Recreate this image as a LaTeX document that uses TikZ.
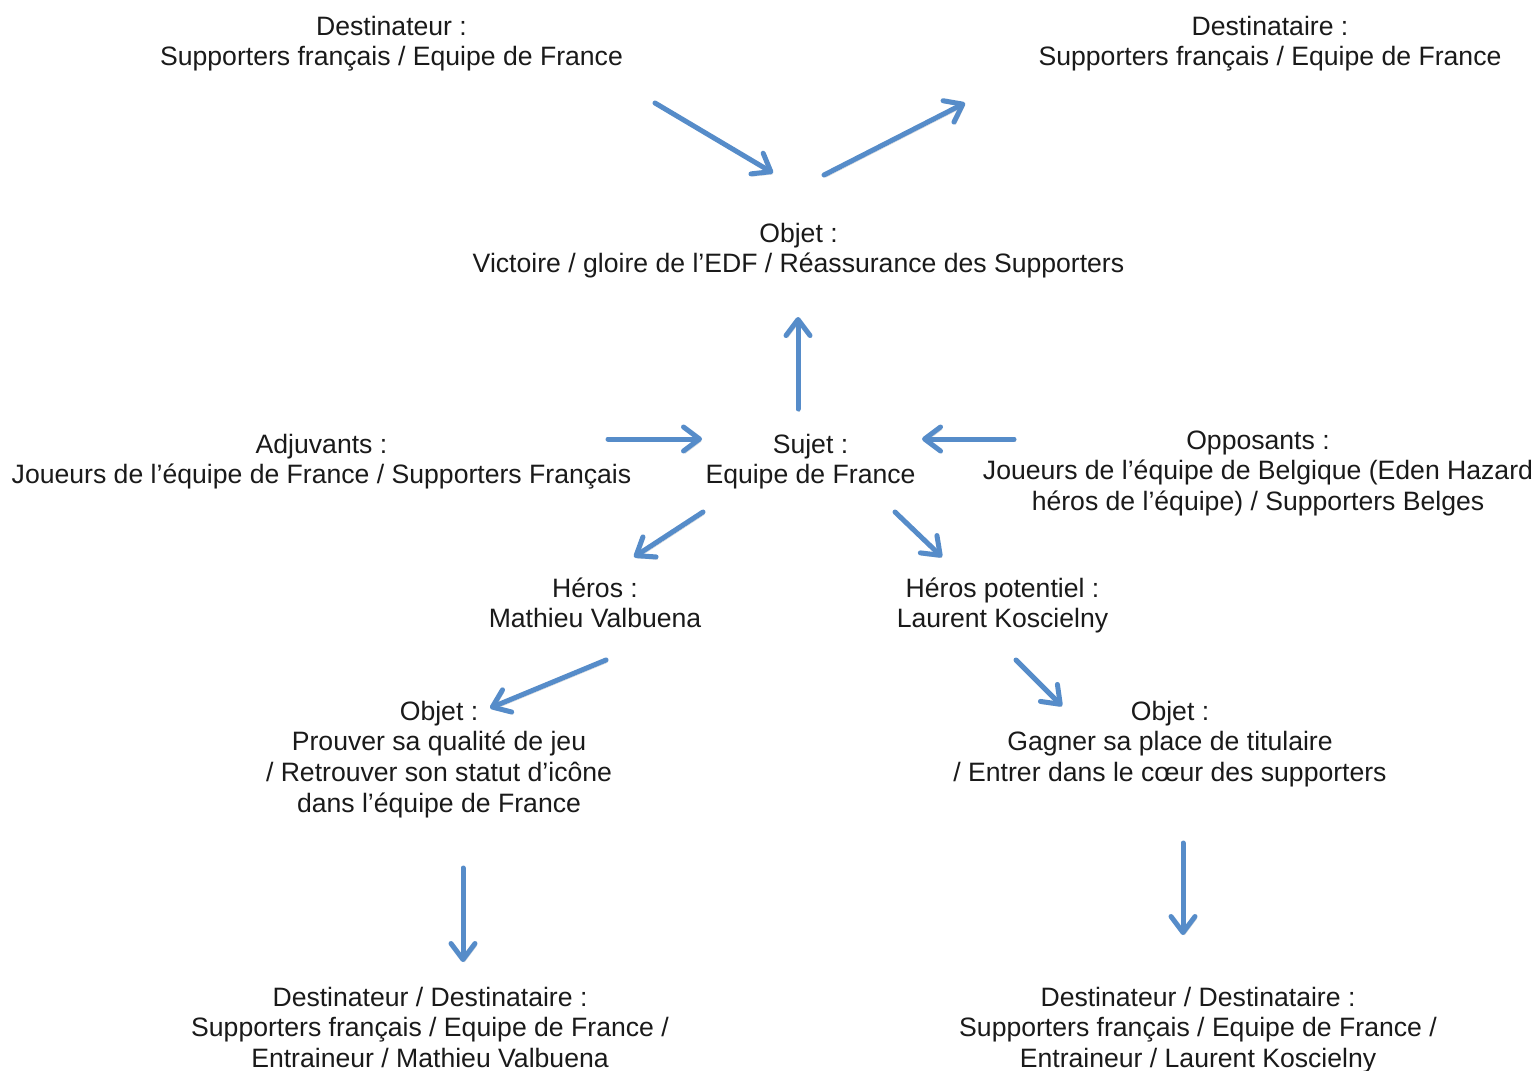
\documentclass[tikz,border=0pt]{standalone}
\usepackage{fontspec}
\setmainfont{Liberation Sans}
\usetikzlibrary{arrows.meta}
\definecolor{arrowblue}{RGB}{86,140,201}
\definecolor{txt}{RGB}{26,26,26}
\begin{document}
\begin{tikzpicture}[x=1pt,y=-1pt,
  lbl/.style={inner sep=0pt, anchor=north, align=center, text=txt,
    font=\fontsize{26.6}{30.7}\selectfont},
  arr/.style={draw=arrowblue, line width=5pt, line cap=round, line join=round,
    -{Straight Barb[length=16pt,width=24pt,round]},
    preaction={draw=black, opacity=0.18,
      transform canvas={shift={(1.5pt,-2.5pt)}}}}]
\useasboundingbox[fill=white] (0,0) rectangle (1538,1070);

\node[lbl] (dteur) at (391.5,13.5) {\strut Destinateur :\\Supporters français / Equipe de France};
\node[lbl] (dtaire) at (1270,13.5) {\strut Destinataire :\\Supporters français / Equipe de France};
\node[lbl] (objet) at (798.5,220.5) {\strut Objet :\\Victoire / gloire de l’EDF / Réassurance des Supporters};
\node[lbl] (adj) at (321.5,431.5) {\strut Adjuvants :\\Joueurs de l’équipe de France / Supporters Français};
\node[lbl] (sujet) at (810.5,431.5) {\strut Sujet :\\Equipe de France};
\node[lbl] (opp) at (1258,427.5) {\strut Opposants :\\Joueurs de l’équipe de Belgique (Eden Hazard\\héros de l’équipe) / Supporters Belges};
\node[lbl] (heros) at (595,575.5) {\strut Héros :\\Mathieu Valbuena};
\node[lbl] (herosp) at (1002.5,575.5) {\strut Héros potentiel :\\Laurent Koscielny};
\node[lbl] (objL) at (439,698.5) {\strut Objet :\\Prouver sa qualité de jeu\\/ Retrouver son statut d’icône\\dans l’équipe de France};
\node[lbl] (objR) at (1170,698.5) {\strut Objet :\\Gagner sa place de titulaire\\/ Entrer dans le cœur des supporters};
\node[lbl] (ddL) at (430,984.5) {\strut Destinateur / Destinataire :\\Supporters français / Equipe de France /\\Entraineur / Mathieu Valbuena};
\node[lbl] (ddR) at (1198,984.5) {\strut Destinateur / Destinataire :\\Supporters français / Equipe de France /\\Entraineur / Laurent Koscielny};

\coordinate (a1s) at (655,103);  \coordinate (a1e) at (773,173);
\coordinate (a2s) at (824,175);  \coordinate (a2e) at (965,103);
\coordinate (a3s) at (798,409);  \coordinate (a3e) at (798,317);
\coordinate (a4s) at (608,439);  \coordinate (a4e) at (702,439);
\coordinate (a5s) at (1014,439); \coordinate (a5e) at (922,439);
\coordinate (a6s) at (703,512);  \coordinate (a6e) at (634,557);
\coordinate (a7s) at (895,512);  \coordinate (a7e) at (942,557);
\coordinate (a8s) at (606,660);  \coordinate (a8e) at (490,708);
\coordinate (a9s) at (1016,660); \coordinate (a9e) at (1062,706);
\coordinate (a10s) at (463,868); \coordinate (a10e) at (463,962);
\coordinate (a11s) at (1183,843); \coordinate (a11e) at (1183,935);

\foreach \i in {1,...,11} {\draw[arr] (a\i s) -- (a\i e);}
\end{tikzpicture}
\end{document}
